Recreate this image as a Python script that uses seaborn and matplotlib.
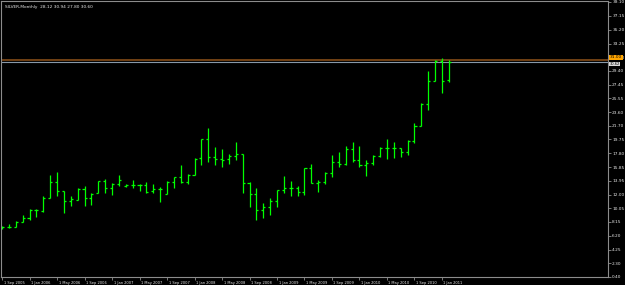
import matplotlib
matplotlib.use("Agg")
import matplotlib.pyplot as plt
import matplotlib.transforms as mtrans
import seaborn as sns
import numpy as np

# ---- data (monthly OHLC, Sep 2005 .. Feb 2011) ----
opens = [7.30, 7.48, 7.50, 8.14, 8.70, 9.83, 9.70, 11.47, 13.70, 12.50,
         11.10, 11.30, 12.80, 11.50, 12.20, 13.85, 12.95, 13.45, 13.20, 13.30,
         13.40, 13.30, 12.50, 12.80, 12.10, 13.82, 14.45, 13.82, 14.80, 17.10,
         19.80, 17.25, 17.00, 17.00, 17.40, 17.70, 13.67, 12.08, 9.83, 10.20,
         11.14, 12.60, 12.97, 12.90, 12.40, 15.70, 13.60, 13.81, 14.99, 16.54,
         16.26, 18.37, 16.87, 16.16, 16.40, 17.47, 18.50, 18.50, 18.50, 17.95,
         19.55, 21.70, 24.80, 28.03, 30.84, 28.12]
highs = [7.57, 7.82, 8.33, 9.17, 9.93, 9.95, 11.80, 14.75, 15.22, 12.55,
         11.80, 12.88, 13.20, 12.18, 13.90, 14.15, 13.58, 14.75, 13.45, 14.05,
         13.49, 13.82, 13.49, 13.11, 13.90, 14.52, 16.16, 14.90, 17.15, 19.86,
         21.33, 18.65, 18.37, 17.75, 19.35, 17.75, 13.81, 12.88, 10.77, 11.47,
         12.64, 14.61, 13.90, 13.20, 15.78, 16.26, 14.05, 15.13, 17.57, 18.03,
         18.84, 19.36, 18.84, 16.87, 17.57, 18.65, 19.78, 19.36, 18.60, 19.70,
         22.03, 24.84, 29.39, 30.94, 31.17, 30.94]
lows = [7.10, 7.25, 7.39, 8.10, 8.47, 8.85, 9.60, 11.45, 11.80, 9.36,
        10.39, 11.24, 10.39, 10.53, 12.20, 12.27, 11.94, 13.20, 13.00, 12.88,
        12.55, 12.18, 12.27, 11.00, 12.05, 12.97, 13.67, 13.50, 14.75, 16.16,
        16.63, 16.16, 15.92, 16.30, 16.90, 12.18, 10.20, 8.42, 8.75, 9.13,
        10.20, 12.18, 11.80, 11.80, 11.94, 13.58, 12.40, 13.49, 14.51, 15.83,
        16.20, 16.63, 15.92, 14.61, 16.16, 17.33, 17.00, 17.19, 17.30, 17.60,
        19.30, 21.65, 23.90, 28.00, 26.34, 27.80]
closes = [7.45, 7.48, 8.18, 8.66, 9.83, 9.80, 11.47, 13.70, 12.55, 11.10,
          11.33, 12.85, 11.47, 12.15, 13.88, 12.88, 13.44, 14.05, 13.30, 13.40,
          13.30, 12.41, 12.78, 12.75, 13.82, 14.45, 13.82, 14.75, 17.00, 19.78,
          17.25, 17.00, 16.90, 17.38, 17.70, 13.67, 12.08, 9.83, 10.20, 11.14,
          12.60, 12.97, 12.97, 12.40, 15.70, 13.60, 13.81, 14.99, 16.54, 16.26,
          18.37, 16.87, 16.16, 16.40, 17.47, 18.50, 18.50, 18.50, 17.95, 19.55,
          21.69, 24.80, 28.03, 30.84, 28.03, 30.60]

date_labels = ["1 Sep 2005", "1 Jan 2006", "1 May 2006", "1 Sep 2006",
               "1 Jan 2007", "1 May 2007", "1 Sep 2007", "1 Jan 2008",
               "1 May 2008", "1 Sep 2008", "1 Jan 2009", "1 May 2009",
               "1 Sep 2009", "1 Jan 2010", "1 May 2010", "1 Sep 2010",
               "1 Jan 2011"]
price_labels = ["0.40", "2.30", "4.25", "6.20", "8.15", "10.05", "12.00",
                "13.95", "15.85", "17.80", "19.75", "21.70", "23.60", "25.55",
                "27.45", "29.40", "31.30", "33.25", "35.20", "37.15", "39.10"]
price_ticks = [float(s) for s in price_labels]

level_line = 31.00
bid_line = 30.62
level_label = "31.00"
bid_label = "30.62"
header = "SILVER,Monthly  28.12 30.94 27.80 30.60"

# ---- style ----
sns.set_theme(style="dark")
plt.rcParams["font.family"] = ["DejaVu Sans"]

BG = "black"
BAR = "#00ff00"
GRID = "#8c8c8c"
TXT = "#e8e8e8"

fig = plt.figure(figsize=(6.25, 2.85), dpi=100, facecolor=BG)
ax = fig.add_axes([1 / 625, 8 / 285, 607 / 625, 276 / 285])
ax.set_facecolor(BG)

x = np.arange(len(opens))
tick = 0.3
ax.vlines(x, lows, highs, color=BAR, lw=0.9)
ax.hlines(opens, x - tick, x, color=BAR, lw=0.9)
ax.hlines(closes, x, x + tick, color=BAR, lw=0.9)

ax.axhline(level_line, color="#7a4616", lw=1.3, zorder=1)
ax.axhline(bid_line, color="#8898a8", lw=0.8, zorder=1)

ax.set_xlim(-0.15, 88.15)
ax.set_ylim(0.40, 0.40 + 276 / 7.106)

# y axis on right
ax.yaxis.tick_right()
ax.set_yticks(price_ticks)
ax.set_yticklabels(price_labels)
ax.tick_params(axis="y", which="both", direction="out", length=2, width=0.6,
               color=GRID, labelcolor=TXT, labelsize=3.1, pad=1, right=True,
               left=False)

ax.set_xticks(list(range(0, 4 * len(date_labels), 4)))
ax.set_xticklabels(date_labels, ha="left", va="top")
ax.tick_params(axis="x", direction="out", length=2.5, width=0.6, color=GRID,
               labelcolor=TXT, labelsize=2.6, pad=0.2, bottom=True)
offset = mtrans.ScaledTranslation(1.5 / 100, 0, fig.dpi_scale_trans)
for lbl in ax.get_xticklabels():
    lbl.set_transform(lbl.get_transform() + offset)

ax.grid(False)
for sp in ax.spines.values():
    sp.set_visible(True)
    sp.set_color(GRID)
    sp.set_linewidth(0.8)

# price labels at the right edge
ax.text(1.003, bid_line - 0.25, bid_label, transform=ax.get_yaxis_transform(),
        fontsize=2.6, color="black", va="center", ha="left",
        bbox=dict(boxstyle="square,pad=0.1", fc="#d8d8d8", ec="none"),
        clip_on=False, zorder=5)
ax.text(1.003, level_line + 0.3, level_label, transform=ax.get_yaxis_transform(),
        fontsize=3.1, color="black", va="center", ha="left",
        bbox=dict(boxstyle="square,pad=0.15", fc="#ffa500", ec="none"),
        clip_on=False, zorder=6)

ax.text(0.006, 0.985, header, transform=ax.transAxes, fontsize=3.1,
        color=TXT, va="top", ha="left")

fig.savefig("out.png", dpi=100, facecolor=BG)
